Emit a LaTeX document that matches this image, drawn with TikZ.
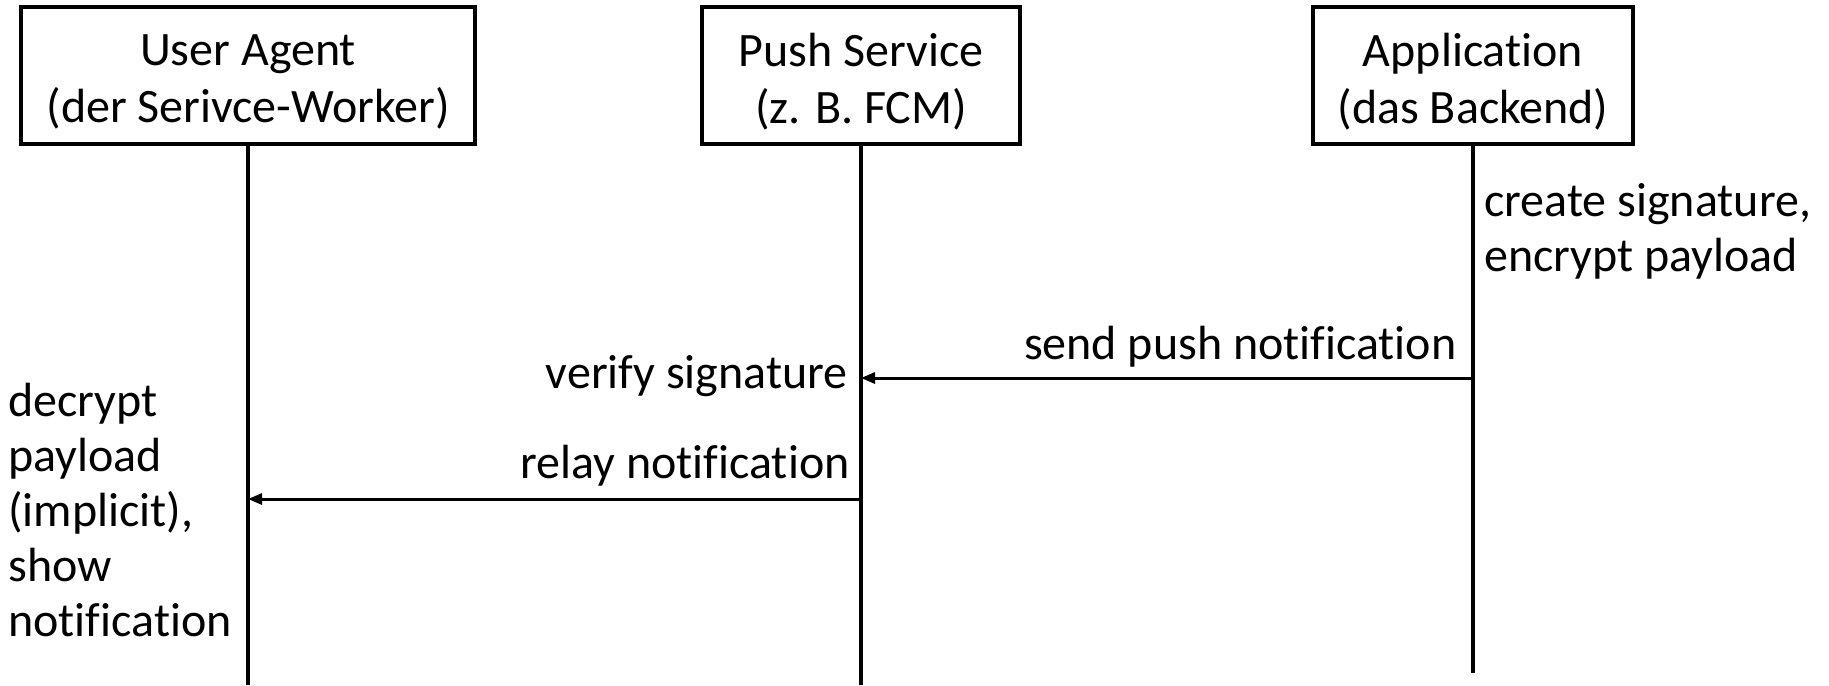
\documentclass[tikz,border=0pt]{standalone}
\usepackage{fontspec}
\setmainfont{Carlito}[Ligatures=NoCommon, Contextuals=NoAlternate]
\usetikzlibrary{arrows.meta}
\tikzset{
  actor/.style={draw=black, line width=1.8pt, fill=white, inner sep=0pt, minimum height=68.5pt},
  actortext/.style={align=center, inner sep=0pt, font=\fontsize{24}{28.5}\selectfont},
  lifeline/.style={line width=1.8pt, black},
  msg/.style={line width=1.5pt, black, -{Triangle[length=7pt,width=5.5pt]}},
  lbl/.style={inner sep=0pt, font=\fontsize{24}{29}\selectfont},
  note/.style={inner sep=0pt, align=left, font=\fontsize{24}{27.5}\selectfont}
}
\begin{document}
\begin{tikzpicture}[x=0.5pt,y=-0.5pt]
\useasboundingbox (0,0) rectangle (1829,685);
% actors
\node[actor, minimum width=227pt] (ua) at (248,75.5) {};
\node[actor, minimum width=159pt] (ps) at (861,75.5) {};
\node[actor, minimum width=160pt] (app) at (1473,75.5) {};
\node[actortext] (uat) at ([yshift=-3pt]ua.center) {User Agent\\(der Serivce-Worker)};
\node[actortext] (pst) at ([yshift=-3pt]ps.center) {Push Service\\(z. B. FCM)};
\node[actortext] (appt) at ([yshift=-3pt]app.center) {Application\\(das Backend)};
% lifeline ends
\coordinate (uaend) at (248,685);
\coordinate (psend) at (861,685);
\coordinate (append) at (1473,673);
\draw[lifeline] (ua.south) -- (uaend);
\draw[lifeline] (ps.south) -- (psend);
\draw[lifeline] (app.south) -- (append);
% message points
\coordinate (m1s) at (1473,378);
\coordinate (m1e) at (861,378);
\coordinate (m2s) at (861,499);
\coordinate (m2e) at (248,499);
\draw[msg] (m1s) -- (m1e);
\draw[msg] (m2s) -- (m2e);
% labels
\node[lbl, anchor=base east] (l1) at (1457,359) {send push notification};
\node[lbl, anchor=base east] (l2) at (848,388) {verify signature};
\node[lbl, anchor=base east] (l3) at (850,478) {relay notification};
\node[note, anchor=north west] (n1) at (1484,183) {create signature,\\encrypt payload};
\node[note, anchor=north west] (n2) at (8,383) {decrypt\\payload\\(implicit),\\show\\notification};
\end{tikzpicture}
\end{document}
